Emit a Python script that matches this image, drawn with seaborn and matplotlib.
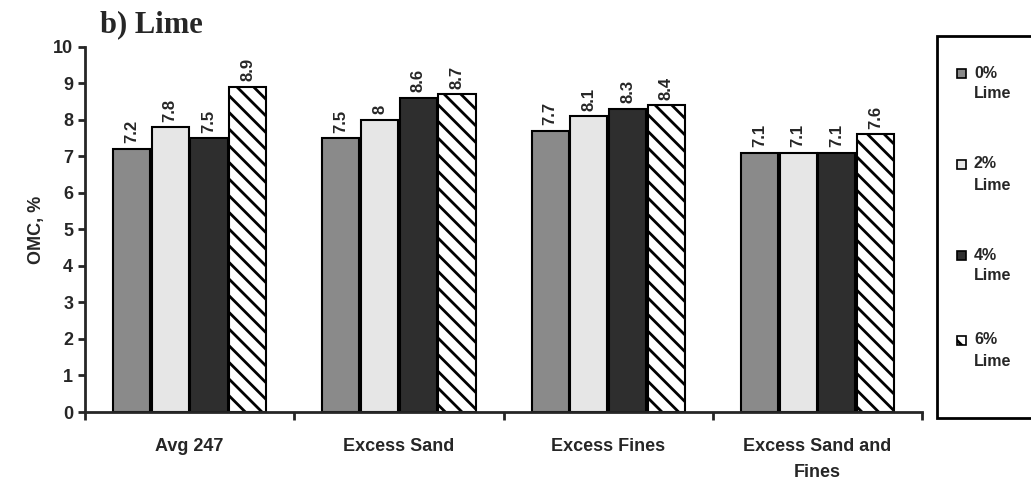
import numpy as np
import pandas as pd
import matplotlib
matplotlib.use("Agg")
import matplotlib.pyplot as plt
import seaborn as sns
from matplotlib.patches import Rectangle

# data
categories = ["Avg 247", "Excess Sand", "Excess Fines", "Excess Sand and\nFines"]
lime_levels = ["0%", "2%", "4%", "6%"]
omc_0 = [7.2, 7.5, 7.7, 7.1]
omc_2 = [7.8, 8.0, 8.1, 7.1]
omc_4 = [7.5, 8.6, 8.3, 7.1]
omc_6 = [8.9, 8.7, 8.4, 7.6]
value_labels = [["7.2", "7.5", "7.7", "7.1"],
                ["7.8", "8", "8.1", "7.1"],
                ["7.5", "8.6", "8.3", "7.1"],
                ["8.9", "8.7", "8.4", "7.6"]]

df = pd.DataFrame({
    "cat": categories * 4,
    "lime": np.repeat(lime_levels, 4),
    "omc": omc_0 + omc_2 + omc_4 + omc_6,
})

sns.set_style("ticks")
plt.rcParams["font.family"] = ["Liberation Sans", "DejaVu Sans"]
plt.rcParams["hatch.linewidth"] = 2.0

fills = ["#8a8a8a", "#e6e6e6", "#2e2e2e", "white"]
hatches = [None, None, None, "\\\\"]

fig = plt.figure(figsize=(10.31, 4.87), dpi=100)
ax = fig.add_axes([0.0824, 0.154, 0.812, 0.75])

sns.barplot(data=df, x="cat", y="omc", hue="lime", palette=fills,
            edgecolor="black", linewidth=1.5, width=0.74, gap=0.04,
            legend=False, ax=ax)

for i, cont in enumerate(ax.containers):
    for bar in cont:
        if hatches[i]:
            bar.set_hatch(hatches[i])
    ax.bar_label(cont, labels=value_labels[i], rotation=90, padding=4,
                 fontsize=12, fontweight="bold")

ax.set_ylim(0, 10)
ax.set_xlim(-0.5, 3.5)
ax.set_yticks(range(0, 11))
ax.set_xticks([-0.5, 0.5, 1.5, 2.5, 3.5])
ax.set_xticklabels([])
ax.set_xticks(range(4), minor=True)
ax.set_xticklabels(categories, minor=True, fontsize=13, fontweight="bold",
                   linespacing=1.65, va="top")
ax.tick_params(axis="x", which="minor", length=0, pad=19)
ax.tick_params(axis="x", which="major", length=6, width=2, direction="out")
ax.tick_params(axis="y", length=5, width=2, labelsize=13)
for t in ax.get_yticklabels():
    t.set_fontweight("bold")
ax.set_xlabel("")
ax.set_ylabel("OMC, %", fontsize=13, fontweight="bold", labelpad=6)
sns.despine(ax=ax)
for s in ["left", "bottom"]:
    ax.spines[s].set_linewidth(2)

fig.text(0.097, 0.95, "b) Lime", fontsize=22, fontweight="bold",
         family="Liberation Serif", va="center")

# legend box drawn by hand so the marker sits next to the first line
W, H = 1031, 487
fig.add_artist(Rectangle((937 / W, 1 - 418 / H), 100 / W, 382 / H,
                         transform=fig.transFigure, facecolor="white",
                         edgecolor="black", linewidth=2, clip_on=False))
legend_rows = [73, 164, 255, 340]
for i, lvl in enumerate(lime_levels):
    yy = 1 - legend_rows[i] / H
    fig.add_artist(Rectangle((957 / W, yy - 4.5 / H), 9 / W, 9 / H,
                             transform=fig.transFigure, facecolor=fills[i],
                             edgecolor="black", linewidth=1.2,
                             hatch=hatches[i]))
    fig.text(974 / W, yy, lvl, fontsize=11.5, fontweight="bold", va="center")
    fig.text(974 / W, yy - 21 / H, "Lime", fontsize=11.5, fontweight="bold",
             va="center")

fig.savefig("out.png", dpi=100)
